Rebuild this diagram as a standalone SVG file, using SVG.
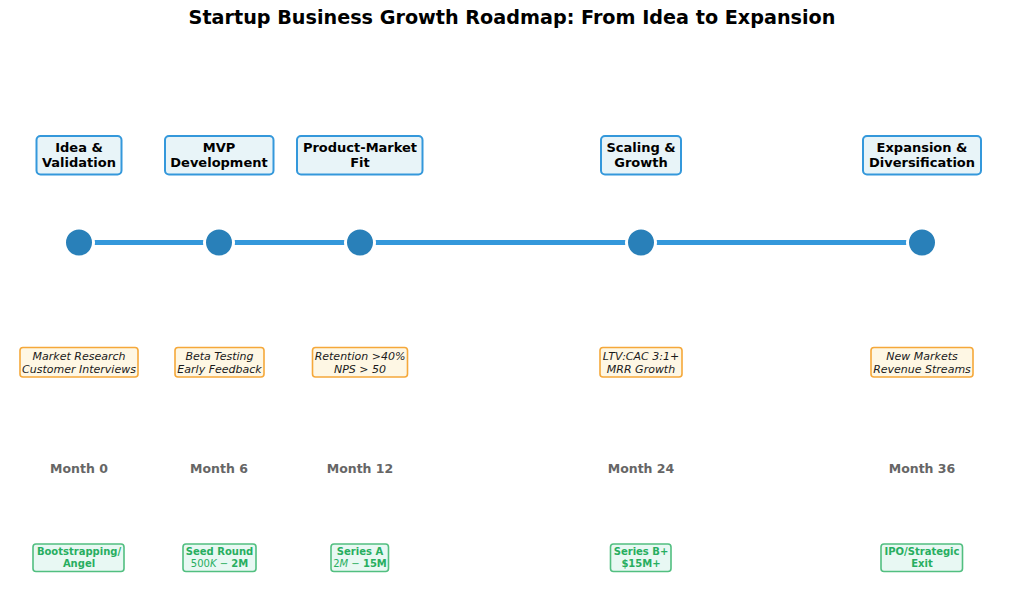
<svg xmlns="http://www.w3.org/2000/svg" width="1024" height="594" viewBox="0 0 1024 594">
<style>
text{font-family:"DejaVu Sans","Liberation Sans",sans-serif;text-anchor:middle}
.title{font-size:19.2px;font-weight:bold;fill:#000}
.stage rect{fill:#e8f4f8;stroke:#3498db;stroke-width:2}
.stage text{font-size:13px;font-weight:bold;fill:#000}
.metric rect{fill:#fef7e4;stroke:#f5a83a;stroke-width:1.6}
.metric text{font-size:11px;font-style:italic;fill:#1a1a1a}
.month text{font-size:12.5px;font-weight:bold;fill:#666}
.fund rect{fill:#e8f8f3;stroke:#52bf80;stroke-width:1.6}
.fund text{font-size:10px;font-weight:bold;fill:#27ae60}
.fund .n{font-weight:normal}
.fund .i{font-weight:normal;font-style:italic}
.dot{fill:#2980b9;stroke:#fff;stroke-width:3}
.conn line{stroke:#3498db;stroke-width:5}
</style>
<text class="title" x="512" y="23.5">Startup Business Growth Roadmap: From Idea to Expansion</text>
<g id="connectors" class="conn">
<line x1="79" y1="242.5" x2="219" y2="242.5"/>
<line x1="219" y1="242.5" x2="360" y2="242.5"/>
<line x1="360" y1="242.5" x2="641" y2="242.5"/>
<line x1="641" y1="242.5" x2="922" y2="242.5"/>
</g>
<g id="stage1">
<g class="stage"><rect x="36.5" y="136" width="85" height="38.5" rx="4"/><text x="79" y="152">Idea &amp;</text><text x="79" y="167">Validation</text></g>
<circle class="dot" cx="79" cy="242.5" r="14.5"/>
<g class="metric"><rect x="20" y="347.5" width="118" height="29.5" rx="3"/><text x="79" y="360">Market Research</text><text x="79" y="372.5">Customer Interviews</text></g>
<g class="month"><text x="79" y="472.5">Month 0</text></g>
<g class="fund"><rect x="33" y="544" width="91" height="27.5" rx="3"/><text x="79" y="555">Bootstrapping/</text><text x="79" y="566.5">Angel</text></g>
</g>
<g id="stage2">
<g class="stage"><rect x="165" y="136" width="108.5" height="38.5" rx="4"/><text x="219" y="152">MVP</text><text x="219" y="167">Development</text></g>
<circle class="dot" cx="219" cy="242.5" r="14.5"/>
<g class="metric"><rect x="175" y="347.5" width="89" height="29.5" rx="3"/><text x="219.5" y="360">Beta Testing</text><text x="219.5" y="372.5">Early Feedback</text></g>
<g class="month"><text x="219" y="472.5">Month 6</text></g>
<g class="fund"><rect x="183" y="544" width="73" height="27.5" rx="3"/><text x="219.5" y="555">Seed Round</text><text x="219.5" y="566.5"><tspan class="n">500</tspan><tspan class="i">K</tspan><tspan class="n"> − </tspan>2M</text></g>
</g>
<g id="stage3">
<g class="stage"><rect x="297" y="136" width="125.5" height="38.5" rx="4"/><text x="360" y="152">Product-Market</text><text x="360" y="167">Fit</text></g>
<circle class="dot" cx="360" cy="242.5" r="14.5"/>
<g class="metric"><rect x="312.5" y="347.5" width="95" height="29.5" rx="3"/><text x="360" y="360">Retention &gt;40%</text><text x="360" y="372.5">NPS &gt; 50</text></g>
<g class="month"><text x="360" y="472.5">Month 12</text></g>
<g class="fund"><rect x="331" y="544" width="57.5" height="27.5" rx="3"/><text x="360" y="555">Series A</text><text x="360" y="566.5"><tspan class="n">2</tspan><tspan class="i">M</tspan><tspan class="n"> − </tspan>15M</text></g>
</g>
<g id="stage4">
<g class="stage"><rect x="601" y="136" width="80" height="38.5" rx="4"/><text x="641" y="152">Scaling &amp;</text><text x="641" y="167">Growth</text></g>
<circle class="dot" cx="641" cy="242.5" r="14.5"/>
<g class="metric"><rect x="600" y="347.5" width="82" height="29.5" rx="3"/><text x="641" y="360">LTV:CAC 3:1+</text><text x="641" y="372.5">MRR Growth</text></g>
<g class="month"><text x="641" y="472.5">Month 24</text></g>
<g class="fund"><rect x="610.5" y="544" width="60.5" height="27.5" rx="3"/><text x="641" y="555">Series B+</text><text x="641" y="566.5">$15M+</text></g>
</g>
<g id="stage5">
<g class="stage"><rect x="863" y="136" width="118" height="38.5" rx="4"/><text x="922" y="152">Expansion &amp;</text><text x="922" y="167">Diversification</text></g>
<circle class="dot" cx="922" cy="242.5" r="14.5"/>
<g class="metric"><rect x="871" y="347.5" width="102" height="29.5" rx="3"/><text x="922" y="360">New Markets</text><text x="922" y="372.5">Revenue Streams</text></g>
<g class="month"><text x="922" y="472.5">Month 36</text></g>
<g class="fund"><rect x="881" y="544" width="81.5" height="27.5" rx="3"/><text x="922" y="555">IPO/Strategic</text><text x="922" y="566.5">Exit</text></g>
</g>
</svg>
